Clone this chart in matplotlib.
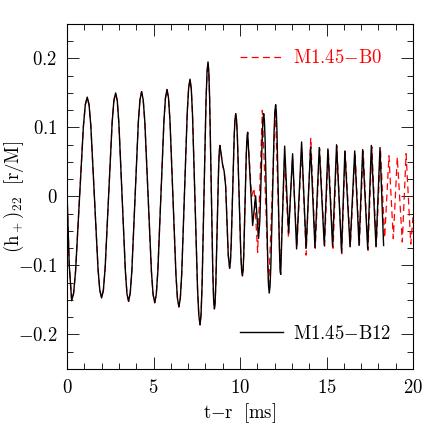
import numpy as np
import matplotlib
matplotlib.use('Agg')
import matplotlib.pyplot as plt
from matplotlib.ticker import MultipleLocator, FuncFormatter

# (t-r [ms], (h+)22 [r/M])
# inspiral: both models lie on top of each other up to ~10.4 ms
inspiral = [
    (0.00, 0.005), (0.13, -0.100), (0.27, -0.151),
    (0.3825, -0.140), (0.495, -0.108), (0.72, -0.004), (0.945, 0.101), (1.0575, 0.133),
    (1.17, 0.144),
    (1.274, 0.133), (1.378, 0.102), (1.585, -0.002), (1.793, -0.105), (1.896, -0.136),
    (2.00, -0.147),
    (2.101, -0.136), (2.203, -0.104), (2.405, 0.002), (2.608, 0.107), (2.709, 0.139),
    (2.81, 0.150),
    (2.904, 0.139), (2.998, 0.106), (3.185, -0.001), (3.373, -0.108), (3.466, -0.141),
    (3.56, -0.152),
    (3.654, -0.140), (3.748, -0.108), (3.935, 0.000), (4.123, 0.108), (4.216, 0.140),
    (4.31, 0.152),
    (4.405, 0.140), (4.50, 0.107), (4.69, -0.001), (4.88, -0.109), (4.975, -0.142),
    (5.07, -0.154),
    (5.159, -0.142), (5.248, -0.109), (5.425, 0.001), (5.603, 0.110), (5.691, 0.143),
    (5.78, 0.155),
    (5.866, 0.143), (5.953, 0.109), (6.125, -0.003), (6.298, -0.114), (6.384, -0.148),
    (6.47, -0.160),
    (6.55, -0.147), (6.63, -0.112), (6.79, 0.005), (6.95, 0.122), (7.03, 0.157),
    (7.11, 0.170),
    (7.183, 0.156), (7.255, 0.118), (7.40, -0.008), (7.545, -0.134), (7.618, -0.172),
    (7.69, -0.186),
    (7.748, -0.171), (7.805, -0.130), (7.92, 0.005), (8.035, 0.139), (8.093, 0.180),
    (8.15, 0.195),
    (8.196, 0.181), (8.243, 0.143), (8.335, 0.016), (8.428, -0.111), (8.474, -0.149),
    (8.52, -0.163),
    (8.56, -0.154), (8.60, -0.128), (8.68, -0.045), (8.76, 0.039), (8.80, 0.065),
    (8.84, 0.074),
    (8.92, 0.060), (9.00, 0.045), (9.08, 0.037), (9.17, 0.015), (9.25, -0.040),
    (9.32, -0.085), (9.40, -0.104),
    (9.444, -0.095), (9.488, -0.071), (9.575, 0.008), (9.663, 0.087), (9.706, 0.111),
    (9.75, 0.120),
    (9.799, 0.111), (9.848, 0.086), (9.945, 0.003), (10.043, -0.081), (10.091, -0.106),
    (10.14, -0.115),
    (10.178, -0.107), (10.215, -0.085), (10.29, -0.011), (10.365, 0.063), (10.403, 0.085),
    (10.44, 0.093),
]

# M1.45-B12 after merger
b12_post = [
    (10.73, -0.042), (10.90, 0.001), (11.07, -0.061), (11.145, -0.035), (11.22, 0.030),
    (11.295, 0.094), (11.333, 0.113), (11.37, 0.120), (11.41, 0.110), (11.45, 0.082),
    (11.53, -0.010), (11.61, -0.102), (11.65, -0.130), (11.69, -0.140), (11.736, -0.130),
    (11.783, -0.100), (11.875, -0.004), (11.968, 0.093), (12.014, 0.123), (12.06, 0.133),
    (12.096, 0.124), (12.133, 0.097), (12.205, 0.010), (12.278, -0.077), (12.314, -0.104),
    (12.35, -0.113), (12.58, 0.073),
    (12.81, -0.053), (13.04, 0.062), (13.27, -0.076), (13.56, 0.079), (13.82, -0.075),
    (14.08, 0.072), (14.33, -0.074), (14.58, 0.071), (14.87, -0.071), (15.08, 0.069),
    (15.35, -0.072), (15.58, 0.075), (15.87, -0.081), (16.06, 0.066), (16.36, -0.073),
    (16.63, 0.066), (16.88, -0.071), (17.09, 0.068), (17.38, -0.076), (17.59, 0.074),
    (17.86, -0.073), (18.09, 0.071), (18.30, -0.071),
]

# M1.45-B0 after merger
b0_post = [
    (10.67, 0.000), (10.81, 0.012), (11.02, -0.081), (11.29, 0.125), (11.66, -0.132),
    (12.04, 0.128), (12.33, -0.110), (12.57, 0.055), (12.80, -0.060), (13.03, 0.058),
    (13.29, -0.072), (13.57, 0.070), (13.82, -0.085), (14.09, 0.085), (14.35, -0.075),
    (14.60, 0.070), (14.89, -0.072), (15.10, 0.068), (15.38, -0.075), (15.60, 0.073),
    (15.88, -0.083), (16.08, 0.065), (16.38, -0.072), (16.65, 0.063), (16.90, -0.070),
    (17.12, 0.066), (17.40, -0.078), (17.62, 0.072), (17.88, -0.072), (18.12, 0.068),
    (18.36, -0.060), (18.61, 0.059), (18.86, -0.061), (19.09, 0.057), (19.38, -0.066),
    (19.60, 0.062), (19.87, -0.069), (20.00, -0.030),
]

b12_t, b12_h = np.array(inspiral + b12_post).T
b0_t, b0_h = np.array(inspiral + b0_post).T

plt.rcParams['mathtext.fontset'] = 'cm'
plt.rcParams['font.family'] = 'serif'
plt.rcParams['font.serif'] = ['cmr10', 'DejaVu Serif']
plt.rcParams['axes.unicode_minus'] = False

fig = plt.figure(figsize=(4.36, 4.36), dpi=100)
ax = fig.add_axes([0.1537, 0.1537, 0.7936, 0.7913])

l_b0, = ax.plot(b0_t, b0_h, color='red', lw=0.9, ls=(0, (5.5, 3.5)))
l_b12, = ax.plot(b12_t, b12_h, color='black', lw=1.0)

ax.set_xlim(0, 20)
ax.set_ylim(-0.25, 0.25)
ax.xaxis.set_major_locator(MultipleLocator(5))
ax.xaxis.set_minor_locator(MultipleLocator(1))
ax.yaxis.set_major_locator(MultipleLocator(0.1))
ax.yaxis.set_minor_locator(MultipleLocator(0.025))
fmt = FuncFormatter(lambda v, p: '$%g$' % round(v, 3))
ax.xaxis.set_major_formatter(fmt)
ax.yaxis.set_major_formatter(fmt)
ax.tick_params(which='both', direction='in', top=True, right=True,
               labelsize=13.5, width=0.6, pad=7)
ax.tick_params(which='major', length=8.4)
ax.tick_params(which='minor', length=4.3)
for s in ax.spines.values():
    s.set_linewidth(0.8)

ax.set_xlabel(r'$\mathrm{t{-}r\ \ [ms]}$', fontsize=13.5, labelpad=3)
ax.set_ylabel(r'$\mathrm{(h_+)_{22}\ \ [r/M]}$', fontsize=13.5)
ax.yaxis.set_label_coords(-0.118, 0.5)

leg1 = ax.legend([l_b0], [r'$\mathrm{M1.45{-}B0}$'], loc='center left',
                 bbox_to_anchor=(0.5, 0.9006), frameon=False, borderpad=0,
                 borderaxespad=0, handlelength=2.3, handletextpad=0.5,
                 labelcolor='red', fontsize=13.5)
ax.add_artist(leg1)
ax.legend([l_b12], [r'$\mathrm{M1.45{-}B12}$'], loc='center left',
          bbox_to_anchor=(0.501, 0.1014), frameon=False, borderpad=0,
          borderaxespad=0, handlelength=2.3, handletextpad=0.5,
          fontsize=13.5)

plt.savefig('out.png', dpi=100)
plt.close()
